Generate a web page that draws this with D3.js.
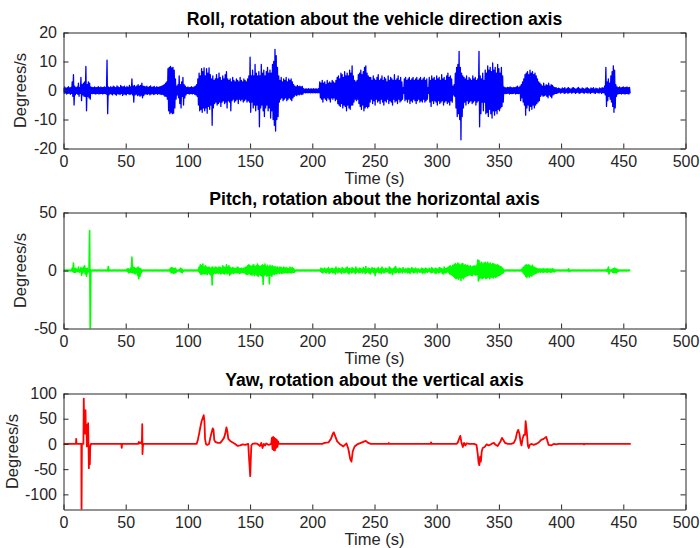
<!DOCTYPE html>
<html>
<head>
<meta charset="utf-8">
<script src="https://cdn.jsdelivr.net/npm/d3@7"></script>
<style>
  body { margin: 0; background: #fff; }
  svg { display: block; }
  text { font-family: "Liberation Sans", Arial, Helvetica, sans-serif; }
</style>
</head>
<body>
<script>
// ---- data -------------------------------------------------------------
const TITLES = [
  "Roll, rotation about the vehicle direction axis",
  "Pitch, rotation about the horizontal axis",
  "Yaw, rotation about the vertical axis"
];
const X_LABEL = "Time (s)";
const Y_LABEL = "Degrees/s";
const TIME_TICKS = [0, 50, 100, 150, 200, 250, 300, 350, 400, 450, 500];
const ROLL_TICKS = [-20, -10, 0, 10, 20];
const PITCH_TICKS = [-50, 0, 50];
const YAW_TICKS = [-100, -50, 0, 50, 100];

// Roll rate, per-second upper / lower excursion (deg/s), t = 0..455 s
const ROLL_HI = [
  1, 1.2, 0.8, 1, 1.3, 0.9, 1.1, 3, 5.5, 1.5,
  1, 1.2, 2.5, 1, 4.5, 2, 2.5, 3, 8.3, 2,
  3, 2.5, 1.2, 1.1, 1, 1.2, 1, 1.1, 1.3, 1,
  1.2, 1, 1.1, 1.2, 1, 10.5, 1.2, 1, 1.3, 1,
  1.5, 1.2, 1, 1.6, 1.2, 1, 1.8, 1.3, 1.2, 1.5,
  1, 1.4, 1.1, 1.8, 1.2, 4, 1.5, 1.8, 1.2, 1.6,
  2, 1.5, 1.8, 2.5, 1.5, 1.4, 1.2, 1.5, 1.1, 1.3,
  1.6, 1.1, 1.2, 1.4, 1, 1.3, 1.1, 1.2, 1.3, 1.5,
  1.8, 2, 2.5, 3, 7.5, 8, 8.3, 7.8, 8, 7,
  4, 1.5, 2, 5, 2, 3, 4.5, 2, 1.5, 1,
  1.2, 1, 1.1, 1.3, 1, 1.2, 1.5, 2, 4, 6,
  5, 7.5, 6.5, 7.8, 5, 7.5, 6, 7.8, 5.5, 4,
  5, 3.5, 4, 5.5, 4, 6, 4.5, 3.5, 5, 4,
  5.5, 6.5, 4, 3.5, 4, 3, 4.5, 3.5, 3, 4,
  3.5, 3, 4.5, 3.5, 3, 4, 3.5, 3, 4, 5,
  11.5, 5, 7, 5, 9, 6, 5, 6.5, 5, 9,
  6, 7, 5, 6.5, 8, 6, 7, 6, 9, 10,
  14.2, 12, 8, 5, 3.5, 4.5, 3, 4, 3.5, 4.5,
  3, 4, 3.5, 4, 3, 2, 1.5, 1.2, 1.8, 1.3,
  1.5, 1.2, 1.4, 0.6, 0.5, 0.6, 0.5, 0.6, 0.5, 0.6,
  0.5, 0.6, 0.5, 0.6, 0.5, 0.6, 3, 2.5, 3.5, 2.5,
  3, 2, 3.5, 2.5, 3, 2.5, 3.5, 3, 2.5, 3.5,
  4.5, 5, 4, 6, 5.5, 4.5, 6.5, 5, 6, 5,
  7, 6, 8.5, 5, 3.5, 3, 3.5, 5.5, 6, 7,
  5.5, 6.5, 8, 8.5, 6, 5, 4.5, 4.5, 3.5, 5,
  4, 3.5, 4.5, 5.5, 3.5, 4, 5, 3.5, 4.5, 4,
  3, 5, 3.5, 4.5, 4, 3.5, 5.5, 3.5, 4, 5,
  3.5, 4.5, 3, 1, 4, 4.5, 3.5, 4, 4.5, 3.5,
  4, 4.5, 3.5, 4, 4.5, 3.5, 4, 4.5, 3.5, 4,
  4.5, 3.5, 4, 1, 4.5, 3.5, 5, 4, 4.5, 3.5,
  5, 4, 4.5, 3.5, 5.5, 4, 4.5, 3.5, 5, 6,
  4.5, 5, 4, 1.5, 2, 6, 8, 9, 13.5, 8,
  6, 5, 4.5, 4, 5, 3.5, 4.5, 4, 3.5, 5,
  4, 4.5, 3.5, 4, 13.5, 5, 4, 6, 3.5, 7,
  6, 8.5, 7, 8, 6.5, 9.5, 7, 8, 6, 9,
  7.5, 6, 8, 5, 1.2, 1, 0.9, 1.1, 1, 1.2,
  1, 0.9, 1.1, 1, 1.2, 1.5, 1, 1.5, 2, 3,
  4, 5.5, 6, 6.5, 5.5, 7, 6, 6.5, 5.5, 6,
  5, 4, 3, 2.5, 2, 1.5, 2.5, 1.5, 2, 1.8,
  2.5, 1.5, 2, 1.8, 1.2, 1, 1, 0.6, 0.8, 0.6,
  0.5, 0.9, 0.6, 1, 0.5, 0.8, 1, 0.6, 0.5, 0.9,
  1, 0.6, 0.5, 0.8, 1.1, 0.6, 0.5, 0.9, 0.6, 0.5,
  0.8, 1, 0.6, 0.5, 0.9, 0.6, 1, 0.5, 0.8, 0.6,
  0.5, 0.9, 0.6, 1, 0.8, 1.5, 8, 3, 4, 2.5,
  5, 6.5, 8.5, 7, 2, 1.2, 1, 1.2, 0.9, 1.1,
  1.2, 1, 1.1, 1.2, 1, 1.1
];
const ROLL_LO = [
  -1, -0.8, -1.2, -1, -0.9, -1.3, -1, -2, -5, -1.5,
  -1, -1.3, -2, -1, -3.5, -1.5, -2, -2, -7, -2,
  -2.5, -3, -1, -1.1, -1, -1.2, -1.1, -1, -1.2, -1.1,
  -1, -1.2, -1, -1.1, -1.2, -8, -1.5, -1.1, -1.2, -1.5,
  -1, -1.3, -1.6, -1.1, -1.2, -1.4, -1, -1.7, -1.2, -1.3,
  -1.5, -1, -1.2, -1.4, -1.1, -1.5, -4, -1.5, -1.2, -1.8,
  -1.5, -2, -1.6, -2.5, -1.8, -1.2, -1.2, -1.3, -1.1, -1.5,
  -1.2, -1.1, -1.4, -1.2, -1, -1.3, -1.1, -1.2, -1.4, -1.3,
  -1.5, -2, -2, -3, -7, -8, -7.5, -8, -7.8, -6,
  -3, -1.5, -2.5, -4.5, -6, -2, -5, -2.5, -1.5, -1,
  -1.1, -1.2, -1, -1.2, -1, -1.3, -1.5, -2, -5, -7,
  -6.5, -7.5, -6, -7, -6, -7.8, -5.5, -6.5, -5, -12,
  -6, -4.5, -4, -5, -4.5, -4, -5.5, -4, -3.5, -4.5,
  -4, -6, -3.5, -4, -7, -3.5, -3, -4, -3.5, -3,
  -4.5, -3, -3.5, -3, -4, -3.5, -3, -4, -3.5, -4,
  -7.5, -4, -6, -5, -7, -5, -6.5, -12.5, -6, -5,
  -7, -9, -6, -5, -7, -6, -9.5, -7, -10, -12,
  -14, -10, -9, -4, -3, -2.5, -3.5, -3, -2.5, -3.5,
  -3, -2.5, -3, -3.5, -2.5, -2, -1.5, -1.8, -1.3, -1.5,
  -1.2, -1.4, -1.2, -0.7, -0.8, -0.7, -0.8, -0.7, -0.8, -0.7,
  -0.8, -0.7, -0.8, -0.7, -0.8, -0.7, -2.5, -3, -4, -2.5,
  -3, -3.5, -2.5, -3, -4, -2.5, -3, -2.5, -3.5, -3,
  -4.5, -5, -5.5, -4.5, -6, -5, -5.5, -7, -5, -6,
  -6.5, -5, -5, -4, -3, -3.5, -3, -4.5, -5.5, -6.5,
  -5, -7, -6, -5.5, -6, -5.5, -4, -3, -4.5, -3.5,
  -5, -3, -4, -3.5, -4.5, -3, -4, -5, -3.5, -4,
  -3, -4.5, -3.5, -4, -5, -3, -4, -3.5, -4.5, -3,
  -4, -3.5, -3, -1, -3.5, -3, -4, -3, -4.5, -3.5,
  -4, -3, -3.5, -4.5, -3.5, -3, -4, -3.5, -4, -3,
  -4, -3.5, -3, -1, -4, -5.5, -3.5, -4.5, -3.5, -4,
  -5, -3.5, -4.5, -4, -3.5, -5, -4, -3.5, -4.5, -4,
  -5, -3.5, -4, -1.5, -2, -6, -9, -8, -10, -17,
  -9, -6, -4, -5, -3.5, -4.5, -4, -3.5, -4.5, -4,
  -3.5, -5, -4, -3.5, -12.5, -8, -4, -7, -4, -8,
  -7.5, -9, -6.5, -8, -9.5, -7, -8.5, -7, -8, -6.5,
  -7, -6, -5.5, -4, -1, -1.1, -1, -0.9, -1.2, -1,
  -1.1, -1, -0.9, -1.2, -1, -1.1, -1, -3.5, -2.5, -4,
  -5, -8.5, -6, -5, -7, -5.5, -6.5, -5, -6, -5,
  -4.5, -4, -3.5, -2, -1.5, -2, -1.8, -1.5, -2, -2.5,
  -1.5, -2, -2.5, -1.5, -1.2, -1, -1, -0.8, -0.6, -0.9,
  -0.7, -0.6, -1, -0.8, -0.6, -1, -0.7, -0.6, -0.9, -0.7,
  -0.6, -1, -0.7, -0.6, -1, -0.8, -0.6, -0.7, -1, -0.6,
  -0.7, -0.9, -0.6, -1, -0.7, -0.6, -0.8, -1, -0.6, -0.7,
  -0.9, -0.6, -1, -0.7, -0.8, -1.5, -5.5, -3.5, -2, -3,
  -4, -5.5, -7.5, -6, -2, -1.2, -1.1, -1, -1.2, -1,
  -1.1, -1.2, -1, -1.1, -1.2, -1
];

// Pitch rate, per-second upper / lower excursion (deg/s), t = 0..455 s
const PITCH_HI = [
  0.4, 0.3, 0.4, 0.3, 0.4, 0.3, 0.4, 2, 6.5, 1.5,
  2, 0.5, 3, 0.5, 2.5, 1.5, 3, 4, 1.5, 2,
  0.5, 34.5, 0.5, 0.4, 0.3, 0.4, 0.3, 0.4, 0.3, 0.4,
  0.3, 0.4, 0.3, 0.4, 0.3, 0.4, 3.5, 0.4, 0.3, 0.4,
  0.3, 0.4, 0.3, 0.4, 0.3, 0.4, 0.3, 0.4, 0.3, 0.4,
  0.3, 1.2, 1.5, 1, 2, 11.5, 3, 2.5, 1.5, 2,
  3, 2, 1.5, 0.5, 0.4, 0.3, 0.4, 0.3, 0.4, 0.3,
  0.4, 0.3, 0.4, 0.3, 0.4, 0.3, 0.4, 0.3, 0.4, 0.3,
  0.4, 0.3, 0.4, 0.3, 0.4, 0.5, 2, 2.5, 2, 1.5,
  2, 0.5, 0.4, 0.5, 2, 1.5, 0.5, 0.4, 0.3, 0.4,
  0.3, 0.4, 0.3, 0.4, 0.3, 0.4, 0.3, 0.4, 0.5, 3,
  5, 4, 5.5, 3, 4, 3, 2.5, 3, 2, 2.5,
  3, 2, 3, 2.5, 2, 3, 2.5, 2, 4, 3,
  2.5, 5, 3, 4, 2.5, 2, 2.5, 2, 1.5, 2,
  3, 2, 1.5, 2, 1.5, 2, 2.5, 3, 4, 5,
  4, 3.5, 4.5, 5, 3.5, 4, 5.5, 4, 3.5, 4,
  5, 4, 5.5, 3.5, 4.5, 3, 4.5, 3.5, 4, 3,
  3.5, 2.5, 3, 2, 3, 2.5, 2, 3, 2, 2.5,
  2, 1.5, 3, 2, 2.5, 1.5, 0.5, 0.4, 0.3, 0.4,
  0.3, 0.4, 0.3, 0.4, 0.3, 0.4, 0.3, 0.4, 0.3, 0.4,
  0.3, 0.4, 0.3, 0.4, 0.3, 0.4, 0.5, 2, 1.5, 1,
  2, 1, 1.5, 2.5, 1, 1.5, 2, 1, 1.5, 3,
  1, 2, 1.5, 1, 2.5, 1.5, 1, 2, 3, 1.5,
  2, 1, 2.5, 1.5, 1, 3, 1.5, 1, 2, 1.5,
  1, 2.5, 1.5, 3.5, 1, 2, 1.5, 1, 2.5, 1.5,
  2, 1, 1.5, 2.5, 1, 1.5, 3, 1.5, 1, 2,
  1.5, 1, 3, 2, 1, 1.5, 2.5, 3.5, 1.5, 1,
  2, 1.5, 1, 2.5, 0.5, 1.5, 1, 2, 1.5, 1,
  2.5, 1.5, 1, 2, 1, 1.5, 0.5, 1, 2, 1.5,
  1, 2, 1.5, 0.5, 2, 1, 2.5, 1.5, 1, 2,
  1.5, 1, 2.5, 2, 1.5, 1, 3, 1.5, 2, 2.5,
  3.5, 4, 3, 4.5, 5, 6, 5, 6.5, 5.5, 4.5,
  5.5, 6, 4.5, 5, 4, 4.5, 3.5, 4, 3, 3.5,
  4, 3.5, 4.5, 9, 8.5, 6, 7, 5.5, 6.5, 7,
  6, 7, 5.5, 6.5, 5, 6, 5.5, 5, 4.5, 5,
  4, 3.5, 3, 2, 0.5, 0.4, 0.3, 0.4, 0.3, 0.4,
  0.3, 0.4, 0.3, 0.4, 0.3, 0.4, 0.3, 0.4, 0.5, 2,
  3, 4, 5, 4.5, 5, 4, 3.5, 4.5, 3, 2.5,
  2, 1.5, 1, 1.5, 1, 1.2, 1.5, 1, 1.2, 1.5,
  1, 1.2, 1, 1.5, 1, 0.5, 0.4, 0.3, 0.4, 0.3,
  0.4, 0.3, 0.4, 0.3, 0.4, 0.3, 1.5, 0.4, 0.3, 0.4,
  0.3, 0.4, 0.3, 0.4, 0.3, 0.4, 0.3, 0.4, 0.3, 0.4,
  0.3, 0.4, 0.3, 0.4, 0.3, 0.4, 0.3, 0.4, 0.3, 0.4,
  0.3, 0.4, 0.3, 0.4, 0.3, 0.4, 0.5, 1, 3, 0.5,
  0.5, 1, 1.5, 2, 1.5, 1, 0.5, 0.4, 0.3, 0.4,
  0.3, 0.4, 0.3, 0.4, 0.3, 0.4
];
const PITCH_LO = [
  -0.3, -0.4, -0.3, -0.4, -0.3, -0.4, -0.3, -1, -1.5, -1.5,
  -1, -0.5, -1.5, -0.5, -4, -2, -1, -3, -5, -2,
  -0.5, -60, -0.5, -0.3, -0.4, -0.3, -0.4, -0.3, -0.4, -0.3,
  -0.4, -0.3, -0.4, -0.3, -0.4, -0.3, -0.5, -0.3, -0.4, -0.3,
  -0.4, -0.3, -0.4, -0.3, -0.4, -0.3, -0.4, -0.3, -0.4, -0.3,
  -0.4, -1, -2, -1.5, -1.5, -2, -2, -3, -2, -4,
  -7, -5, -2, -0.5, -0.3, -0.4, -0.3, -0.4, -0.3, -0.4,
  -0.3, -0.4, -0.3, -0.4, -0.3, -0.4, -0.3, -0.4, -0.3, -0.4,
  -0.3, -0.4, -0.3, -0.4, -0.3, -0.5, -2, -2, -2.5, -2,
  -1.5, -0.5, -0.4, -0.5, -1.5, -2, -0.5, -0.3, -0.4, -0.3,
  -0.4, -0.3, -0.4, -0.3, -0.4, -0.3, -0.4, -0.3, -0.5, -2,
  -3.5, -3, -2.5, -3, -2.5, -3.5, -2, -3, -4, -12.5,
  -3, -2, -2.5, -2, -2.5, -2, -3, -2, -2.5, -3,
  -2, -3, -2, -4, -3, -2, -2.5, -2, -1.5, -2,
  -2, -2.5, -2, -1.5, -1.5, -2, -3, -3.5, -3, -2.5,
  -3.5, -4, -3, -4.5, -3, -4, -5, -3.5, -4, -5,
  -12, -4, -3.5, -5, -4, -11.5, -4, -5, -3, -3.5,
  -2.5, -3, -2, -2.5, -2, -2.5, -2, -2, -1.5, -2,
  -2, -1.5, -2, -2, -1.5, -1.5, -0.5, -0.3, -0.4, -0.3,
  -0.4, -0.3, -0.4, -0.3, -0.4, -0.3, -0.4, -0.3, -0.4, -0.3,
  -0.4, -0.3, -0.4, -0.3, -0.4, -0.3, -0.5, -1.5, -2, -1,
  -1.5, -2, -1, -2.5, -1.5, -1, -2, -1.5, -3, -1,
  -2, -1, -1.5, -2.5, -1, -2, -1.5, -1, -2, -3,
  -1, -2, -1.5, -1, -2.5, -1.5, -1, -2, -1.5, -1,
  -2, -1, -2.5, -1.5, -1, -2, -3, -1.5, -1, -2,
  -4.5, -1.5, -1, -2, -1.5, -2.5, -1, -2, -1.5, -1,
  -1, -2, -2.5, -1.5, -3.5, -1, -2, -1.5, -1, -2,
  -1.5, -1, -2, -0.5, -1.5, -1, -2, -1.5, -2.5, -1,
  -1, -2, -1.5, -1, -2, -0.5, -1.5, -1, -2.5, -1.5,
  -2, -1, -1.5, -0.5, -1, -2, -1.5, -1, -2, -2.5,
  -1, -2, -1.5, -1, -2.5, -3, -1.5, -2, -1, -1.5,
  -3, -3.5, -4, -5, -6, -7, -6.5, -7.5, -6, -8.5,
  -6, -7, -5.5, -5, -4.5, -4, -3.5, -4, -4.5, -3,
  -3.5, -4, -3.5, -9, -7, -6, -7, -6.5, -5.5, -7,
  -6.5, -5.5, -7, -6, -5.5, -6.5, -5, -6, -5, -4.5,
  -4, -3.5, -2.5, -2, -0.5, -0.3, -0.4, -0.3, -0.4, -0.3,
  -0.4, -0.3, -0.4, -0.3, -0.4, -0.3, -0.4, -0.3, -0.5, -2,
  -3.5, -5, -6, -4.5, -5.5, -4, -5, -3.5, -3, -2.5,
  -2, -1.5, -1, -1.5, -1, -1.5, -1.2, -1, -1.5, -1.2,
  -1, -1.5, -1.2, -1, -1.2, -0.5, -0.3, -0.4, -0.3, -0.4,
  -0.3, -0.4, -0.3, -0.4, -0.3, -0.4, -1, -0.3, -0.4, -0.3,
  -0.4, -0.3, -0.4, -0.3, -0.4, -0.3, -0.4, -0.3, -0.4, -0.3,
  -0.4, -0.3, -0.4, -0.3, -0.4, -0.3, -0.4, -0.3, -0.4, -0.3,
  -0.4, -0.3, -0.4, -0.3, -0.4, -0.3, -0.5, -1, -3, -0.5,
  -0.5, -1.5, -2, -1.5, -2, -1, -0.5, -0.3, -0.4, -0.3,
  -0.4, -0.3, -0.4, -0.3, -0.4, -0.3
];

// Yaw rate samples: time (s) and value (deg/s)
const YAW_T = [
  0, 10, 10.2, 10.5, 14.3, 14.5, 14.8,
  16.0, 16.3, 16.6, 17.4, 17.7, 18.0, 18.5, 18.8, 19.5, 19.8, 20.1, 20.4, 20.7, 21.2, 21.5, 22,
  46.5, 46.8, 47.1,
  60, 60.5, 61, 62, 63, 63.3, 63.5, 63.8, 64.2,
  107, 108, 109, 110, 111, 112, 112.7, 113.3, 113.8, 114.5, 115.5, 117,
  118, 119, 120, 120.6, 121.2, 122, 124, 126, 127, 129, 130, 131, 131.7, 132.5, 134, 136, 138, 140, 142, 144, 146, 148.5,
  149.2, 149.6, 150.1, 150.5, 151, 152, 154, 156, 158, 159, 160, 161, 162, 163, 165, 167,
  167.5, 168, 168.5, 169, 169.5, 170, 170.5, 171, 171.5, 172, 172.5, 173,
  208, 210, 213, 215, 216.5, 217.3, 218.5, 220, 222, 225, 227.5, 229, 230.5, 231.5, 232.5, 234, 236, 238, 241, 243, 245, 247,
  261, 261.5, 262, 295, 295.5, 296,
  316, 317, 318, 319, 319.8, 321, 322, 323, 324, 326, 330, 332,
  333, 333.7, 334.3, 334.9, 335.5, 336.2, 337, 338.5, 340, 342, 344, 346, 347, 349, 350,
  351.5, 352.5, 353.5, 355, 357, 360, 362, 363.5, 364.5, 365.5, 366.5, 367.5, 368.2,
  369, 370, 371, 371.5, 372.4, 373.3, 374, 374.7, 376, 378, 380,
  382, 384, 386, 388, 389, 390, 392, 394, 396, 398,
  418, 418.5, 419, 456
];
const YAW_V = [
  0, 0, 10, 0, 0, -140, 0,
  0, 90, 20, 30, 67, 20, 38, -5, 10, 41, 0, -48, -20, -40, -5, 0,
  0, -8, 0,
  0, 4, 1, 3, 0, 39, -20, -5, 0,
  0, 8, 20, 33, 45, 52, 57, 45, 10, 0, -2, 0,
  12, 22, 31, 28, 8, 4, 2, 2, 5, 12, 20, 33, 25, 10, 6, 3, 0, -4, -3, -1, -2, 0,
  -30, -45, -64, -35, -3, 0, 1, 0, -4, 2, -8, 0, -3, 1, -2, 0,
  12, -10, 14, -12, 12, -13, 10, -8, 8, -6, 5, 0,
  0, 2, 3, 10, 20, 23, 15, 5, 0, -5, 1, -10, -30, -35, -15, -5, -1, 1, 4, 6, 2, 0,
  0, 2, 0, 0, 3, 0,
  0, 3, 10, 16, 4, -6, 2, -3, 1, 0, 0, -2,
  -20, -38, -42, -25, -35, -15, -8, -6, -1, -3, 0, 2, -1, -4, 0,
  6, 12, 8, 2, 0, 0, 2, 10, 22, 28, 20, 3, -3,
  10, 18, 18, 45, 25, -3, -8, -2, 0, -2, 0,
  3, 8, 10, 14, 6, -2, -3, 0, -1, 0,
  0, -1, 0, 0
];

// ---- layout -----------------------------------------------------------
const W = 700, H = 548;
const LEFT = 63.5, RIGHT = 685.5;
const PANEL_TOPS = [32.5, 212.5, 393.5];
const PANEL_H = 116;
const INK = "#262626";

const svg = d3.select("body").append("svg")
  .attr("width", W).attr("height", H)
  .attr("viewBox", `0 0 ${W} ${H}`);

const x = d3.scaleLinear().domain([0, 500]).range([LEFT, RIGHT]);

// dense signals: each second contributes its upper and lower excursion
const envelope = (hi, lo) => hi.flatMap((h, i) => [[i, h], [i + 0.5, lo[i]]]);

const panels = [
  { title: TITLES[0], domain: [-20, 20], ticks: ROLL_TICKS, color: "#0000ff",
    pts: envelope(ROLL_HI, ROLL_LO), lw: 1.3, ylabX: 26 },
  { title: TITLES[1], domain: [-50, 50], ticks: PITCH_TICKS, color: "#00ff00",
    pts: envelope(PITCH_HI, PITCH_LO), lw: 1.6, ylabX: 26 },
  { title: TITLES[2], domain: [-130, 100], ticks: YAW_TICKS, color: "#ff0000",
    pts: YAW_T.map((t, i) => [t, YAW_V[i]]), lw: 1.8, ylabX: 17.5 }
];

const fmt = d => String(d);

panels.forEach((p, k) => {
  const top = PANEL_TOPS[k], bottom = top + PANEL_H;
  const y = d3.scaleLinear().domain(p.domain).range([bottom, top]);
  const g = svg.append("g");

  const clipId = "plot-clip-" + k;
  svg.append("clipPath").attr("id", clipId)
    .append("rect")
    .attr("x", LEFT).attr("y", top)
    .attr("width", RIGHT - LEFT).attr("height", PANEL_H);

  g.append("path")
    .datum(p.pts)
    .attr("clip-path", `url(#${clipId})`)
    .attr("fill", "none")
    .attr("stroke", p.color)
    .attr("stroke-width", p.lw)
    .attr("stroke-linejoin", "round")
    .attr("d", d3.line().x(d => x(d[0])).y(d => y(d[1])));

  // box with inward ticks on all four sides
  const axB = g.append("g").attr("transform", `translate(0,${bottom})`)
    .call(d3.axisBottom(x).tickValues(TIME_TICKS).tickFormat(fmt)
      .tickSizeInner(-5).tickSizeOuter(0).tickPadding(7));
  const axT = g.append("g").attr("transform", `translate(0,${top})`)
    .call(d3.axisTop(x).tickValues(TIME_TICKS).tickFormat("")
      .tickSizeInner(-5).tickSizeOuter(0));
  const axL = g.append("g").attr("transform", `translate(${LEFT},0)`)
    .call(d3.axisLeft(y).tickValues(p.ticks).tickFormat(fmt)
      .tickSizeInner(-5).tickSizeOuter(0).tickPadding(6.5));
  const axR = g.append("g").attr("transform", `translate(${RIGHT},0)`)
    .call(d3.axisRight(y).tickValues(p.ticks).tickFormat("")
      .tickSizeInner(-5).tickSizeOuter(0));

  [axB, axT, axL, axR].forEach(a => {
    a.select(".domain").attr("stroke", INK).attr("stroke-width", 1);
    a.selectAll(".tick line").attr("stroke", INK).attr("stroke-width", 1);
    a.selectAll(".tick text")
      .attr("fill", INK)
      .attr("font-size", 16)
      .attr("font-family", '"Liberation Sans", Arial, sans-serif');
  });

  g.append("text")
    .attr("x", (LEFT + RIGHT) / 2).attr("y", top - 7.5)
    .attr("text-anchor", "middle")
    .attr("font-size", 17.6).attr("font-weight", "bold")
    .attr("fill", "#000")
    .text(p.title);

  g.append("text")
    .attr("x", (LEFT + RIGHT) / 2).attr("y", bottom + 35)
    .attr("text-anchor", "middle")
    .attr("font-size", 16.5).attr("fill", INK)
    .text(X_LABEL);

  g.append("text")
    .attr("transform", `translate(${p.ylabX},${(top + bottom) / 2}) rotate(-90)`)
    .attr("text-anchor", "middle")
    .attr("font-size", 16.5).attr("fill", INK)
    .text(Y_LABEL);
});
</script>
</body>
</html>
